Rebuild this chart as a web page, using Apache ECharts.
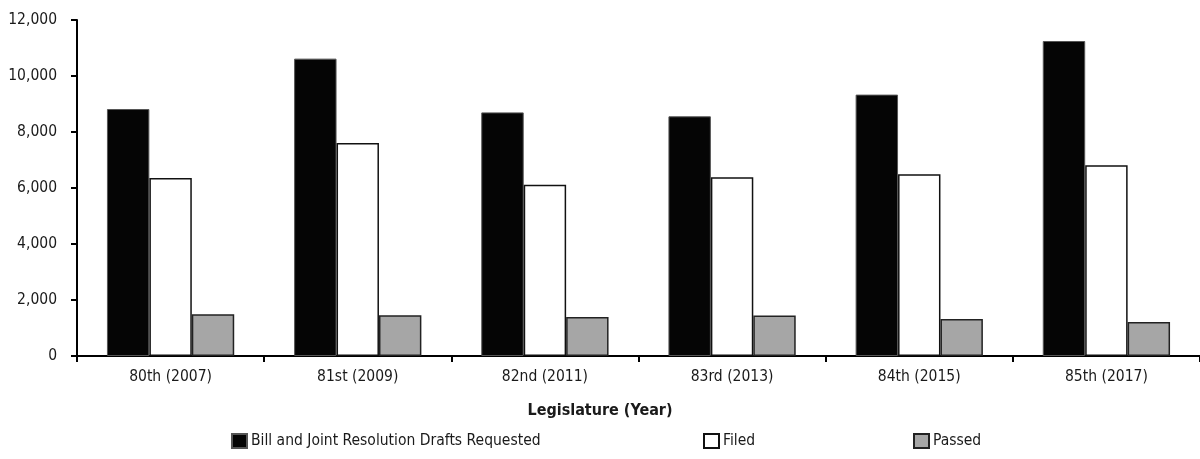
<!DOCTYPE html>
<html>
<head>
<meta charset="utf-8">
<script src="https://cdn.jsdelivr.net/npm/echarts@6/dist/echarts.min.js"></script>
<style>
html,body{margin:0;padding:0;background:#fff;}
#chart{width:1200px;height:459px;}
</style>
</head>
<body>
<div id="chart"></div>
<script>
const categories = ["80th (2007)", "81st (2009)", "82nd (2011)", "83rd (2013)", "84th (2015)", "85th (2017)"];
const requested = [8820, 10620, 8700, 8560, 9335, 11250];
const filed = [6360, 7610, 6120, 6380, 6490, 6810];
const passed = [1490, 1455, 1395, 1445, 1320, 1215];
const seriesNames = ["Bill and Joint Resolution Drafts Requested", "Filed", "Passed"];
const yTicks = { min: 0, max: 12000, interval: 2000 };
const xAxisTitle = "Legislature (Year)";

const FONT = '"DejaVu Sans"';
const STRETCH = 'condensed';
const FS = 15.5;
const chart = echarts.init(document.getElementById('chart'));
const legendText = { fontFamily: FONT, fontStyle: STRETCH, fontSize: FS, color: '#1a1a1a', padding: [0, 0, 0, -1] };
function legendAt(name, left) {
  return {
    data: [{ name: name }],
    left: left, top: 433,
    itemWidth: 15, itemHeight: 14, itemGap: 0,
    icon: 'rect',
    textStyle: legendText,
    selectedMode: false,
    padding: 0
  };
}
chart.setOption({
  backgroundColor: '#fff',
  animation: false,
  textStyle: { fontFamily: FONT },
  title: {
    text: xAxisTitle,
    left: 'center', top: 403,
    padding: 0,
    textStyle: { fontFamily: FONT, fontStyle: STRETCH, fontSize: 16, fontWeight: 'bold', color: '#1a1a1a' }
  },
  legend: [
    legendAt(seriesNames[0], 231),
    legendAt(seriesNames[1], 703),
    legendAt(seriesNames[2], 913)
  ],
  grid: { left: 77, right: 0, top: 20, bottom: 103, containLabel: false },
  xAxis: {
    type: 'category',
    data: categories,
    axisLine: { lineStyle: { color: '#000', width: 2 } },
    axisTick: { show: true, alignWithLabel: false, length: 6, lineStyle: { color: '#000', width: 2 } },
    axisLabel: { fontFamily: FONT, fontStyle: STRETCH, fontSize: FS, color: '#1a1a1a', margin: 13 },
    splitLine: { show: false }
  },
  yAxis: {
    type: 'value',
    min: yTicks.min, max: yTicks.max, interval: yTicks.interval,
    axisLine: { show: true, lineStyle: { color: '#000', width: 2 } },
    axisTick: { show: true, length: 6, lineStyle: { color: '#000', width: 2 } },
    axisLabel: {
      fontFamily: FONT, fontStyle: STRETCH, fontSize: FS, color: '#1a1a1a', margin: 20,
      formatter: v => v.toLocaleString('en-US')
    },
    splitLine: { show: false }
  },
  series: [
    {
      name: seriesNames[0], type: 'bar', data: requested,
      barGap: '0%', barCategoryGap: '32%',
      itemStyle: { color: '#050505', borderColor: '#555', borderWidth: 1 }
    },
    {
      name: seriesNames[1], type: 'bar', data: filed,
      itemStyle: { color: '#fff', borderColor: '#111', borderWidth: 1.5 }
    },
    {
      name: seriesNames[2], type: 'bar', data: passed,
      itemStyle: { color: '#a6a6a6', borderColor: '#222', borderWidth: 1.5 }
    }
  ]
});
</script>
</body>
</html>
